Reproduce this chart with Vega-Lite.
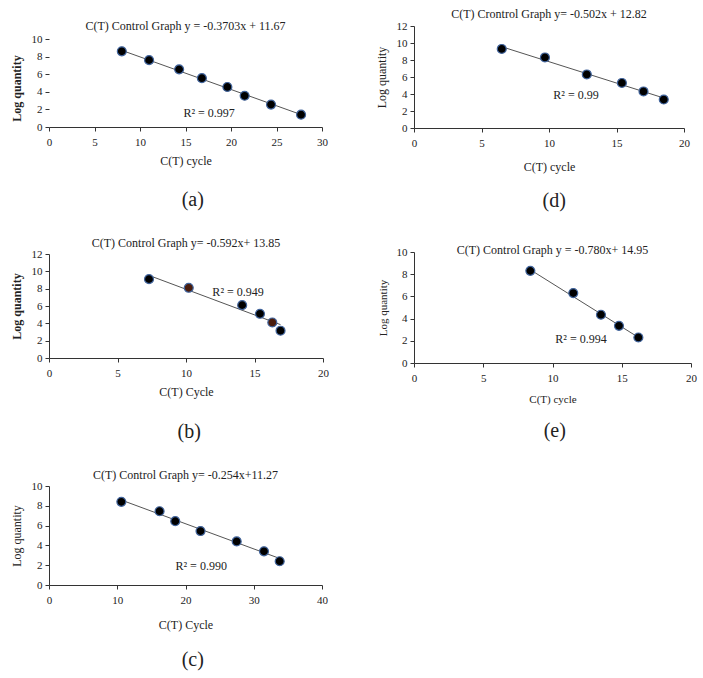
{
  "$schema": "https://vega.github.io/schema/vega-lite/v6.json",
  "padding": {"left": 10, "top": 8, "right": 5, "bottom": 3},
  "background": "white",
  "datasets": {
    "pts": [
      {"panel": "a", "x": 8.0, "y": 8.6}, {"panel": "a", "x": 11.0, "y": 7.6}, {"panel": "a", "x": 14.3, "y": 6.55}, {"panel": "a", "x": 16.8, "y": 5.55},
      {"panel": "a", "x": 19.6, "y": 4.55}, {"panel": "a", "x": 21.5, "y": 3.55}, {"panel": "a", "x": 24.4, "y": 2.55}, {"panel": "a", "x": 27.7, "y": 1.4},
      {"panel": "d", "x": 6.5, "y": 9.3}, {"panel": "d", "x": 9.7, "y": 8.3}, {"panel": "d", "x": 12.8, "y": 6.3}, {"panel": "d", "x": 15.4, "y": 5.3},
      {"panel": "d", "x": 17.0, "y": 4.3}, {"panel": "d", "x": 18.5, "y": 3.35},
      {"panel": "b", "x": 7.3, "y": 9.1}, {"panel": "b", "x": 10.2, "y": 8.1}, {"panel": "b", "x": 14.1, "y": 6.1}, {"panel": "b", "x": 15.4, "y": 5.1},
      {"panel": "b", "x": 16.3, "y": 4.1}, {"panel": "b", "x": 16.9, "y": 3.15},
      {"panel": "e", "x": 8.4, "y": 8.3}, {"panel": "e", "x": 11.5, "y": 6.3}, {"panel": "e", "x": 13.5, "y": 4.35}, {"panel": "e", "x": 14.8, "y": 3.35},
      {"panel": "e", "x": 16.2, "y": 2.3},
      {"panel": "c", "x": 10.6, "y": 8.4}, {"panel": "c", "x": 16.2, "y": 7.45}, {"panel": "c", "x": 18.5, "y": 6.45}, {"panel": "c", "x": 22.2, "y": 5.45},
      {"panel": "c", "x": 27.5, "y": 4.4}, {"panel": "c", "x": 31.5, "y": 3.4}, {"panel": "c", "x": 33.8, "y": 2.4}
    ],
    "fit": [
      {"panel": "a", "x": 8.0, "y": 8.71}, {"panel": "a", "x": 27.7, "y": 1.41},
      {"panel": "d", "x": 6.5, "y": 9.56}, {"panel": "d", "x": 18.5, "y": 3.53},
      {"panel": "b", "x": 7.3, "y": 9.53}, {"panel": "b", "x": 16.9, "y": 3.85},
      {"panel": "e", "x": 8.4, "y": 8.4}, {"panel": "e", "x": 16.2, "y": 2.31},
      {"panel": "c", "x": 10.6, "y": 8.58}, {"panel": "c", "x": 33.8, "y": 2.68}
    ],
    "r2": [
      {"panel": "a", "x": 17.6, "y": 1.6, "label": "R² = 0.997"},
      {"panel": "d", "x": 12.0, "y": 3.9, "label": "R² = 0.99"},
      {"panel": "b", "x": 13.8, "y": 7.6, "label": "R² = 0.949"},
      {"panel": "e", "x": 12.06, "y": 2.16, "label": "R² = 0.994"},
      {"panel": "c", "x": 22.3, "y": 1.9, "label": "R² = 0.990"}
    ]
  },
  "spacing": 46,
  "hconcat": [
    {
      "spacing": 27,
      "vconcat": [
        {
          "title": {"text": "(a)", "orient": "bottom", "fontSize": 20, "offset": 24, "anchor": "middle", "dx": 24},
          "vconcat": [{
            "width": 273, "height": 101,
            "title": {"text": "C(T) Control Graph y = -0.3703x + 11.67", "offset": -7},
            "encoding": {
              "x": {"field": "x", "type": "quantitative", "scale": {"domain": [0, 30], "nice": false, "zero": false}, "axis": {"values": [0, 5, 10, 15, 20, 25, 30], "title": "C(T) cycle", "titlePadding": 8}},
              "y": {"field": "y", "type": "quantitative", "scale": {"domain": [0, 11.48], "nice": false}, "axis": {"values": [0, 2, 4, 6, 8, 10], "title": "Log quantity", "titleFontWeight": "bold", "domain": false, "titleY": 62}}
            },
            "layer": [
              {"data": {"values": [{}]}, "mark": {"type": "rule", "color": "#333", "strokeWidth": 1}, "encoding": {"x": {"datum": 0}, "y": {"datum": 0}, "y2": {"datum": 10}}},
              {"data": {"name": "fit"}, "transform": [{"filter": "datum.panel === 'a'"}], "mark": {"type": "line", "color": "#555", "strokeWidth": 1}},
              {"data": {"name": "pts"}, "transform": [{"filter": "datum.panel === 'a'"}], "mark": {"type": "circle", "size": 80, "color": "#000", "stroke": "#41649c", "strokeWidth": 1.2, "opacity": 1}},
              {"data": {"name": "r2"}, "transform": [{"filter": "datum.panel === 'a'"}], "mark": {"type": "text", "fontSize": 12, "font": "Liberation Serif", "color": "#222"}, "encoding": {"text": {"field": "label"}}}
            ]
          }]
        },
        {
          "title": {"text": "(b)", "orient": "bottom", "fontSize": 20, "offset": 25, "anchor": "middle", "dx": 20},
          "vconcat": [{
            "width": 274, "height": 104,
            "title": {"text": "C(T) Control Graph y= -0.592x+ 13.85", "offset": -2},
            "encoding": {
              "x": {"field": "x", "type": "quantitative", "scale": {"domain": [0, 20], "nice": false, "zero": false}, "axis": {"values": [0, 5, 10, 15, 20], "title": "C(T) Cycle"}},
              "y": {"field": "y", "type": "quantitative", "scale": {"domain": [0, 12], "nice": false}, "axis": {"values": [0, 2, 4, 6, 8, 10, 12], "title": "Log quantity", "titleFontWeight": "bold"}}
            },
            "layer": [
              {"data": {"name": "fit"}, "transform": [{"filter": "datum.panel === 'b'"}], "mark": {"type": "line", "color": "#555", "strokeWidth": 1}},
              {"data": {"name": "pts"}, "transform": [{"filter": "datum.panel === 'b'"}], "mark": {"type": "circle", "size": 80, "stroke": "#41649c", "strokeWidth": 1.2, "opacity": 1},
               "encoding": {"color": {"condition": {"test": "datum.x === 10.2 || datum.x === 16.3", "value": "#4a1c0c"}, "value": "#000"}}},
              {"data": {"name": "r2"}, "transform": [{"filter": "datum.panel === 'b'"}], "mark": {"type": "text", "fontSize": 12, "font": "Liberation Serif", "color": "#222"}, "encoding": {"text": {"field": "label"}}}
            ]
          }]
        },
        {
          "title": {"text": "(c)", "orient": "bottom", "fontSize": 20, "offset": 20, "anchor": "middle", "dx": 24},
          "vconcat": [{
            "width": 273, "height": 99,
            "title": {"text": "C(T) Control Graph y= -0.254x+11.27", "offset": -2},
            "encoding": {
              "x": {"field": "x", "type": "quantitative", "scale": {"domain": [0, 40], "nice": false, "zero": false}, "axis": {"values": [0, 10, 20, 30, 40], "title": "C(T) Cycle", "titlePadding": 14}},
              "y": {"field": "y", "type": "quantitative", "scale": {"domain": [0, 10], "nice": false}, "axis": {"values": [0, 2, 4, 6, 8, 10], "title": "Log quantity"}}
            },
            "layer": [
              {"data": {"name": "fit"}, "transform": [{"filter": "datum.panel === 'c'"}], "mark": {"type": "line", "color": "#555", "strokeWidth": 1}},
              {"data": {"name": "pts"}, "transform": [{"filter": "datum.panel === 'c'"}], "mark": {"type": "circle", "size": 80, "color": "#000", "stroke": "#41649c", "strokeWidth": 1.2, "opacity": 1}},
              {"data": {"name": "r2"}, "transform": [{"filter": "datum.panel === 'c'"}], "mark": {"type": "text", "fontSize": 12, "font": "Liberation Serif", "color": "#222"}, "encoding": {"text": {"field": "label"}}}
            ]
          }]
        }
      ]
    },
    {
      "spacing": 33,
      "vconcat": [
        {
          "title": {"text": "(d)", "orient": "bottom", "fontSize": 20, "offset": 19, "anchor": "middle", "dx": 22},
          "vconcat": [{
            "width": 270, "height": 102,
            "title": {"text": "C(T) Crontrol Graph y= -0.502x + 12.82", "offset": -1},
            "encoding": {
              "x": {"field": "x", "type": "quantitative", "scale": {"domain": [0, 20], "nice": false, "zero": false}, "axis": {"values": [0, 5, 10, 15, 20], "title": "C(T) cycle", "titlePadding": 13}},
              "y": {"field": "y", "type": "quantitative", "scale": {"domain": [0, 12], "nice": false}, "axis": {"values": [0, 2, 4, 6, 8, 10, 12], "title": "Log quantity"}}
            },
            "layer": [
              {"data": {"name": "fit"}, "transform": [{"filter": "datum.panel === 'd'"}], "mark": {"type": "line", "color": "#555", "strokeWidth": 1}},
              {"data": {"name": "pts"}, "transform": [{"filter": "datum.panel === 'd'"}], "mark": {"type": "circle", "size": 80, "color": "#000", "stroke": "#41649c", "strokeWidth": 1.2, "opacity": 1}},
              {"data": {"name": "r2"}, "transform": [{"filter": "datum.panel === 'd'"}], "mark": {"type": "text", "fontSize": 12, "font": "Liberation Serif", "color": "#222"}, "encoding": {"text": {"field": "label"}}}
            ]
          }]
        },
        {
          "title": {"text": "(e)", "orient": "bottom", "fontSize": 20, "offset": 17, "anchor": "middle", "dx": 18},
          "vconcat": [{
            "width": 277, "height": 111,
            "title": {"text": "C(T) Control Graph y = -0.780x+ 14.95", "offset": -11},
            "encoding": {
              "x": {"field": "x", "type": "quantitative", "scale": {"domain": [0, 20], "nice": false, "zero": false}, "axis": {"values": [0, 5, 10, 15, 20], "title": "C(T) cycle", "titleFontSize": 11, "titlePadding": 10}},
              "y": {"field": "y", "type": "quantitative", "scale": {"domain": [0, 10], "nice": false}, "axis": {"values": [0, 2, 4, 6, 8, 10], "title": "Log quantity", "titleFontSize": 11}}
            },
            "layer": [
              {"data": {"name": "fit"}, "transform": [{"filter": "datum.panel === 'e'"}], "mark": {"type": "line", "color": "#555", "strokeWidth": 1}},
              {"data": {"name": "pts"}, "transform": [{"filter": "datum.panel === 'e'"}], "mark": {"type": "circle", "size": 80, "color": "#000", "stroke": "#41649c", "strokeWidth": 1.2, "opacity": 1}},
              {"data": {"name": "r2"}, "transform": [{"filter": "datum.panel === 'e'"}], "mark": {"type": "text", "fontSize": 12, "font": "Liberation Serif", "color": "#222"}, "encoding": {"text": {"field": "label"}}}
            ]
          }]
        }
      ]
    }
  ],
  "config": {
    "font": "Liberation Serif",
    "view": {"stroke": null},
    "axis": {
      "grid": false,
      "domainColor": "#333",
      "tickColor": "#333",
      "tickSize": 4,
      "labelFont": "Liberation Serif",
      "labelFontSize": 11,
      "labelColor": "#222",
      "labelPadding": 3,
      "labelFlush": false,
      "labelOverlap": false,
      "titleFont": "Liberation Serif",
      "titleFontSize": 12,
      "titleFontWeight": "normal",
      "titleColor": "#222",
      "titlePadding": 8
    },
    "axisX": {"labelPadding": 5},
    "title": {"font": "Liberation Serif", "fontSize": 12, "fontWeight": "normal", "color": "#222"}
  }
}
